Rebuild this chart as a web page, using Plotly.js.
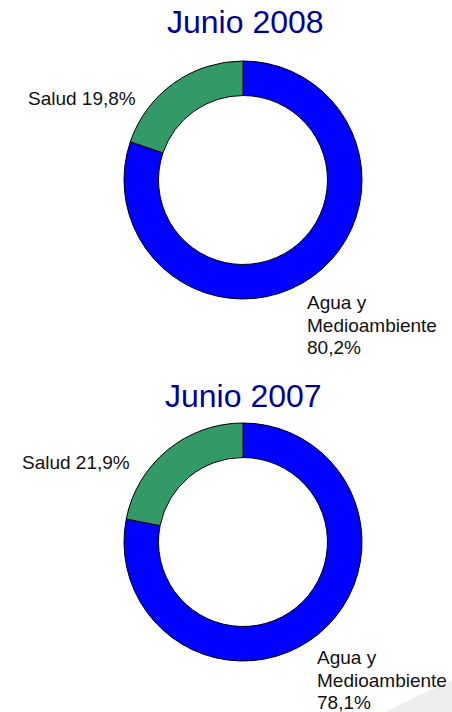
<!DOCTYPE html>
<html>
<head>
<meta charset="utf-8">
<script src="https://cdn.plot.ly/plotly-3.0.1.min.js"></script>
<style>html,body{margin:0;padding:0;background:#fff;}#chart{width:452px;height:712px;}</style>
</head>
<body>
<div id="chart"></div>
<script>
const titles = ["Junio 2008", "Junio 2007"];
const categories = ["Agua y Medioambiente", "Salud"];
const values2008 = [80.2, 19.8];
const values2007 = [78.1, 21.9];
const labelAgua = ["Agua y", "Medioambiente"];
const labelSalud = "Salud";
const colors = ["#0000FF", "#339966"];

const W = 452, H = 712;
const px = x => x / W;
const py = y => 1 - y / H;
const fmt = v => v.toFixed(1).replace(".", ",") + "%";

function donut(values, top, bottom) {
  return {
    type: "pie",
    labels: categories,
    values: values,
    sort: false,
    direction: "clockwise",
    rotation: 0,
    hole: 0.71,
    textinfo: "none",
    hoverinfo: "label+percent",
    marker: {colors: colors, line: {color: "#000000", width: 1}},
    domain: {x: [px(124), px(362)], y: [py(bottom), py(top)]},
    showlegend: false
  };
}

const data = [donut(values2008, 61, 299), donut(values2007, 423, 661)];

const lblFont = {family: "'Liberation Sans', Arial, sans-serif", size: 19, color: "#111111"};
const ttlFont = {family: "'Liberation Sans', Arial, sans-serif", size: 32, color: "#000099"};

function aguaLines(values, x, yFirst) {
  const lines = labelAgua.concat([fmt(values[0])]);
  return lines.map((t, i) => ({text: t, x: px(x), y: py(yFirst + i * 22.5), xanchor: "left", yanchor: "middle", font: lblFont}));
}

const annotations = [
  {text: titles[0], x: px(246), y: py(22), xanchor: "center", yanchor: "middle", font: ttlFont},
  {text: titles[1], x: px(244), y: py(396), xanchor: "center", yanchor: "middle", font: ttlFont},
  {text: labelSalud + " " + fmt(values2008[1]), x: px(26), y: py(99), xanchor: "left", yanchor: "middle", font: lblFont},
  {text: labelSalud + " " + fmt(values2007[1]), x: px(20), y: py(462), xanchor: "left", yanchor: "middle", font: lblFont}
].concat(aguaLines(values2008, 305, 302.5), aguaLines(values2007, 315, 657.5))
 .map(a => Object.assign({xref: "paper", yref: "paper", showarrow: false}, a));

const layout = {
  width: W, height: H,
  margin: {l: 0, r: 0, t: 0, b: 0},
  paper_bgcolor: "#ffffff",
  plot_bgcolor: "#ffffff",
  annotations: annotations,
  shapes: [{
    type: "path", xref: "paper", yref: "paper", layer: "below",
    path: `M ${px(385)} ${py(712)} L ${px(452)} ${py(680)} L ${px(452)} ${py(712)} Z`,
    fillcolor: "#eeeeee", line: {width: 0}
  }]
};

Plotly.newPlot("chart", data, layout, {displayModeBar: false, staticPlot: true});
</script>
</body>
</html>
